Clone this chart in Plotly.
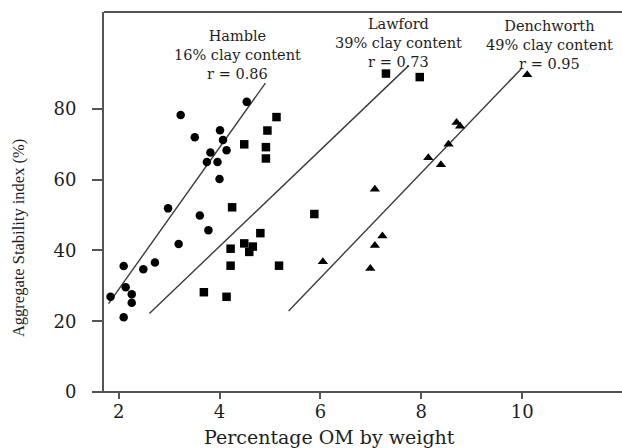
import plotly.graph_objects as go

# Hamble (circles)
hamble_x = [1.84, 2.10, 2.10, 2.14, 2.26, 2.26, 2.49, 2.72, 2.98, 3.19, 3.23,
            3.51, 3.61, 3.78, 3.82, 3.75, 3.96, 4.00, 4.01, 4.07, 4.14, 4.54]
hamble_y = [26.9, 35.6, 21.1, 29.6, 27.6, 25.2, 34.7, 36.6, 51.9, 41.8, 78.3,
            72.0, 49.9, 45.7, 67.7, 65.0, 65.0, 60.2, 74.0, 71.2, 68.3, 82.0]
hamble_fit_x = [1.80, 4.91]
hamble_fit_y = [25.0, 87.3]

# Lawford (squares)
lawford_x = [7.30, 7.97, 5.13, 4.95, 4.49, 4.92, 4.92, 4.25, 5.88, 4.81, 4.49,
             4.66, 4.59, 4.22, 4.22, 5.18, 3.69, 4.14]
lawford_y = [90.0, 89.0, 77.7, 73.9, 70.0, 69.2, 66.0, 52.2, 50.3, 44.9, 42.0,
             41.1, 39.6, 40.5, 35.7, 35.7, 28.2, 26.9]
lawford_fit_x = [2.61, 7.74]
lawford_fit_y = [22.2, 92.1]

# Denchworth (triangles)
dench_x = [10.10, 8.70, 8.77, 8.54, 8.14, 8.39, 7.08, 7.23, 7.08, 6.05, 6.99]
dench_y = [89.7, 76.2, 75.1, 70.0, 66.2, 64.2, 57.3, 44.1, 41.4, 36.8, 34.9]
dench_fit_x = [5.37, 9.98]
dench_fit_y = [22.9, 91.3]

labels = [
    ("Hamble<br>16% clay content<br>r = 0.86", 4.35, 95.2),
    ("Lawford<br>39% clay content<br>r = 0.73", 7.54, 98.6),
    ("Denchworth<br>49% clay content<br>r = 0.95", 10.55, 98.0),
]

x_ticks = [2, 4, 6, 8, 10]
y_ticks = [0, 20, 40, 60, 80]

WIDE = "DejaVu Serif, serif"
NARROW = "Liberation Serif, Times New Roman, serif"
LINE = "#3c3c3c"
FRAME = "#555555"
TXT = "#1e1e1e"

fig = go.Figure()
for fx, fy in [(hamble_fit_x, hamble_fit_y), (lawford_fit_x, lawford_fit_y),
               (dench_fit_x, dench_fit_y)]:
    fig.add_trace(go.Scatter(x=fx, y=fy, mode="lines",
                             line=dict(color=LINE, width=1.4), showlegend=False,
                             hoverinfo="skip"))

fig.add_trace(go.Scatter(x=hamble_x, y=hamble_y, mode="markers", name="Hamble",
                         marker=dict(symbol="circle", size=8.5, color="black"),
                         showlegend=False))
fig.add_trace(go.Scatter(x=lawford_x, y=lawford_y, mode="markers", name="Lawford",
                         marker=dict(symbol="square", size=8.5, color="black"),
                         showlegend=False))
fig.add_trace(go.Scatter(x=dench_x, y=dench_y, mode="markers", name="Denchworth",
                         marker=dict(symbol="triangle-up", size=9, color="black"),
                         showlegend=False))

for text, x, y in labels:
    fig.add_annotation(x=x, y=y, text=text, showarrow=False, xanchor="center",
                       yanchor="middle", align="center", borderpad=0,
                       font=dict(family=WIDE, size=14.5, color=TXT))

# axis titles as annotations (they are not centred on the plot area)
fig.add_annotation(xref="paper", yref="paper", x=0.436, y=0, yshift=-45,
                   text="Percentage OM by weight", showarrow=False,
                   xanchor="center", yanchor="middle",
                   font=dict(family=WIDE, size=19, color=TXT))
fig.add_annotation(xref="paper", yref="paper", x=0, xshift=-86, y=0.405,
                   text="Aggregate Stability index (%)", showarrow=False,
                   textangle=-90, xanchor="center", yanchor="middle",
                   font=dict(family=NARROW, size=16.5, color=TXT))

# x-axis line extending slightly left of the y-axis, and top frame line
fig.add_shape(type="line", xref="paper", yref="paper", x0=-0.02, x1=1, y0=0, y1=0,
              line=dict(color=FRAME, width=1.8))
fig.add_shape(type="line", xref="paper", yref="paper", x0=0, x1=1, y0=1, y1=1,
              line=dict(color=FRAME, width=1.8))

fig.update_xaxes(range=[1.71, 11.98], tickvals=x_ticks, ticks="outside", ticklen=6,
                 tickcolor=FRAME, tickwidth=1.5, showline=False,
                 showgrid=False, zeroline=False, ticklabelstandoff=-3,
                 tickfont=dict(family=WIDE, size=18, color=TXT))
fig.update_yaxes(range=[0, 107.4], tickvals=y_ticks, ticks="outside", ticklen=10,
                 tickcolor=FRAME, tickwidth=1.5, showline=True, linecolor=FRAME,
                 linewidth=1.8, showgrid=False, zeroline=False, ticklabelstandoff=12,
                 tickfont=dict(family=WIDE, size=18, color=TXT))

fig.update_layout(width=622, height=448, plot_bgcolor="white", paper_bgcolor="white",
                  margin=dict(l=104, r=0, t=12, b=56, autoexpand=False))

fig.write_html("out.html", config={"displayModeBar": False},
               post_script="document.body.style.margin='0';")
